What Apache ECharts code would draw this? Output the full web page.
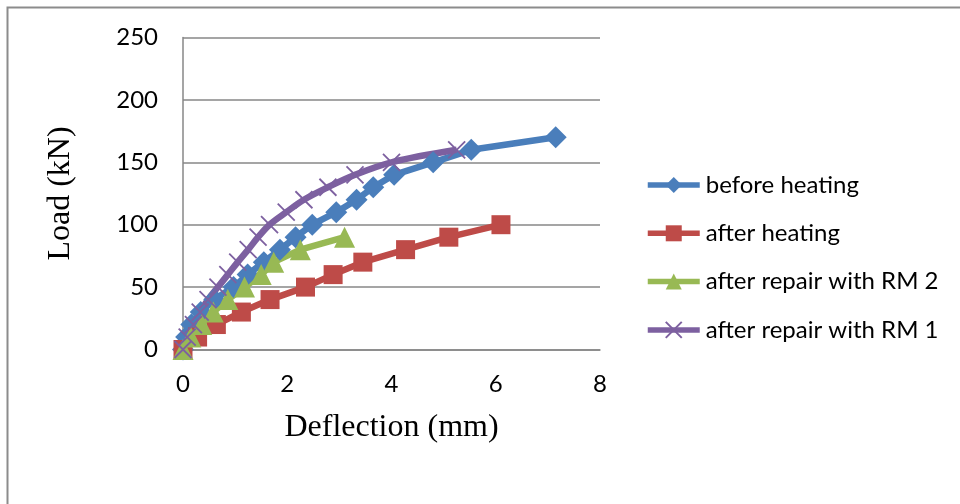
<!DOCTYPE html>
<html>
<head>
<meta charset="utf-8">
<script src="https://cdn.jsdelivr.net/npm/echarts@6/dist/echarts.min.js"></script>
<style>
  html, body { margin: 0; padding: 0; background: #fff; }
  #chart { width: 960px; height: 504px; }
</style>
</head>
<body>
<div id="chart"></div>
<script>
// Load–deflection results, [deflection (mm), load (kN)]
const seriesNames = ['before heating', 'after heating', 'after repair with RM 2', 'after repair with RM 1'];

const beforeHeating = [
  [0, 0], [0.06, 10], [0.16, 20], [0.34, 30], [0.6, 40], [0.97, 50], [1.24, 60],
  [1.55, 70], [1.86, 80], [2.16, 90], [2.48, 100], [2.94, 110], [3.33, 120],
  [3.65, 130], [4.05, 140], [4.8, 150], [5.53, 160], [7.15, 170]
];
const afterHeating = [
  [0, 0], [0.28, 10], [0.64, 20], [1.12, 30], [1.67, 40], [2.35, 50],
  [2.88, 60], [3.45, 70], [4.27, 80], [5.1, 90], [6.1, 100]
];
const repairRM2 = [
  [0, 0], [0.15, 10], [0.36, 20], [0.58, 30], [0.86, 40], [1.18, 50],
  [1.5, 60], [1.74, 70], [2.25, 80], [3.1, 90]
];
const repairRM1 = [
  [0, 0], [0.08, 10], [0.2, 20], [0.33, 30], [0.48, 40], [0.67, 50], [0.86, 60],
  [1.05, 70], [1.25, 80], [1.44, 90], [1.66, 100], [1.98, 110], [2.32, 120],
  [2.78, 130], [3.3, 140], [4.0, 150], [5.25, 160]
];

const xTicks = { min: 0, max: 8, interval: 2 };
const yTicks = { min: 0, max: 250, interval: 50 };

const colors = ['#4A7EBB', '#BE4B48', '#98B954', '#7D60A0'];
const axisGray = '#878787';
const crossPath = 'path://M0,0L10,10M10,0L0,10';

const chart = echarts.init(document.getElementById('chart'), null, { renderer: 'canvas' });

function lineSeries(name, data, color, symbol, size, extra) {
  return Object.assign({
    name: name,
    type: 'line',
    data: data,
    symbol: symbol,
    symbolSize: size,
    showAllSymbol: true,
    lineStyle: { color: color, width: 6.5 },
    itemStyle: { color: color },
    emphasis: { disabled: true },
    animation: false
  }, extra || {});
}

chart.setOption({
  backgroundColor: '#fff',
  animation: false,
  graphic: [{
    type: 'rect',
    shape: { x: 7.5, y: 7.5, width: 1200, height: 1200 },
    style: { fill: 'none', stroke: '#8c8c8c', lineWidth: 2 },
    silent: true
  }],
  grid: { left: 183, right: 360, top: 37.5, bottom: 154.5, containLabel: false },
  legend: {
    orient: 'vertical',
    left: 645,
    top: 173,
    padding: 0,
    itemWidth: 52,
    itemHeight: 20,
    itemGap: 24.3,
    data: seriesNames,
    lineStyle: { width: 5.5 },
    textStyle: { fontFamily: 'Lato', fontSize: 24, color: '#000', lineHeight: 20, padding: [0, 0, 0, 1] }
  },
  xAxis: {
    type: 'value',
    min: xTicks.min, max: xTicks.max, interval: xTicks.interval,
    name: 'Deflection (mm)',
    nameLocation: 'middle',
    nameGap: 62,
    nameTextStyle: { fontFamily: 'Liberation Serif', fontSize: 32, color: '#000' },
    axisLine: { show: true, lineStyle: { color: axisGray, width: 1.5 } },
    axisTick: { show: false },
    splitLine: { show: false },
    axisLabel: { fontFamily: 'Lato', fontSize: 24, color: '#000', margin: 23 }
  },
  yAxis: {
    type: 'value',
    min: yTicks.min, max: yTicks.max, interval: yTicks.interval,
    name: 'Load (kN)',
    nameLocation: 'middle',
    nameGap: 106,
    nameTextStyle: { fontFamily: 'Liberation Serif', fontSize: 32, color: '#000' },
    axisLine: { show: true, lineStyle: { color: axisGray, width: 1.5 } },
    axisTick: { show: false },
    splitLine: { show: true, lineStyle: { color: axisGray, width: 1.5 } },
    axisLabel: { fontFamily: 'Lato', fontSize: 24, color: '#000', margin: 25 }
  },
  series: [
    lineSeries(seriesNames[0], beforeHeating, colors[0], 'diamond', 22),
    lineSeries(seriesNames[1], afterHeating, colors[1], 'rect', 19),
    lineSeries(seriesNames[2], repairRM2, colors[2], 'triangle', 21),
    lineSeries(seriesNames[3], repairRM1, colors[3], crossPath, 17, {
      smooth: 0.35,
      itemStyle: { color: 'none', borderColor: colors[3], borderWidth: 1.8 }
    })
  ]
});
</script>
</body>
</html>
